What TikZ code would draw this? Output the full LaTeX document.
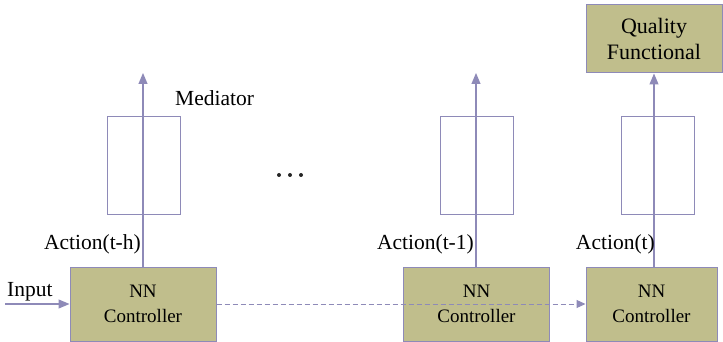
\documentclass[tikz,border=0pt]{standalone}
\usepackage{fontspec}
\setmainfont{Liberation Serif}
\usetikzlibrary{arrows.meta}
\definecolor{boxfill}{RGB}{192,190,140}
\definecolor{edge}{RGB}{142,138,184}
\begin{document}
\begin{tikzpicture}[x=1pt,y=-1pt,
  ctrl/.style={draw=edge,fill=boxfill,line width=1pt,minimum width=146pt,minimum height=74pt,
    align=center,font=\fontsize{19}{25}\selectfont,inner sep=0pt},
  qbox/.style={draw=edge,fill=boxfill,line width=1pt,minimum width=136pt,minimum height=68pt,
    align=center,font=\fontsize{22}{26}\selectfont,inner sep=0pt},
  medbox/.style={draw=edge,line width=1pt,minimum width=73pt,minimum height=97pt,inner sep=0pt},
  lbl/.style={font=\fontsize{21.5}{25}\selectfont,inner sep=0pt},
  flow/.style={draw=edge,line width=1.2pt,-{Triangle[length=11pt,width=9pt]}},
  link/.style={draw=edge,line width=1pt,dash pattern=on 5pt off 3pt,-{Triangle[length=9pt,width=8pt]}}]
\useasboundingbox (0,0) rectangle (723,342);
% controllers
\node[ctrl] (c1) at (143,304) {NN\\Controller};
\node[ctrl] (c2) at (476.5,304) {NN\\Controller};
\node[ctrl,minimum width=131pt] (c3) at (651.5,304) {NN\\Controller};
% quality functional
\node[qbox] (q) at (654,39) {Quality\\Functional};
% mediator boxes
\node[medbox] (m1) at (143.5,165.5) {};
\node[medbox] (m2) at (476.5,165.5) {};
\node[medbox] (m3) at (658,165.5) {};
% free ends
\coordinate (in) at (5,304);
\coordinate (t1) at (143,73);
\coordinate (t2) at (476,73);
% arrows
\draw[flow] (in) -- (c1.west);
\draw[flow] (c1.north -| t1) -- (t1);
\draw[flow] (c2.north -| t2) -- (t2);
\draw[flow] (c3.north -| q.south) -- (q.south);
\draw[link] (c1.east) -- (c3.west);
% labels
\node[lbl,anchor=base west] (li) at (7,296) {Input};
\node[lbl,anchor=base west] (lm) at (175,106) {Mediator};
\node[lbl,anchor=base east] (la1) at (141,249) {Action(t-h)};
\node[lbl,anchor=base east] (la2) at (474,249) {Action(t-1)};
\node[lbl,anchor=base east] (la3) at (655,249) {Action(t)};
% ellipsis between the first and the later stages
\foreach \x in {279,290,301} \fill[black!85] (\x,175) circle (2pt);
\end{tikzpicture}
\end{document}
